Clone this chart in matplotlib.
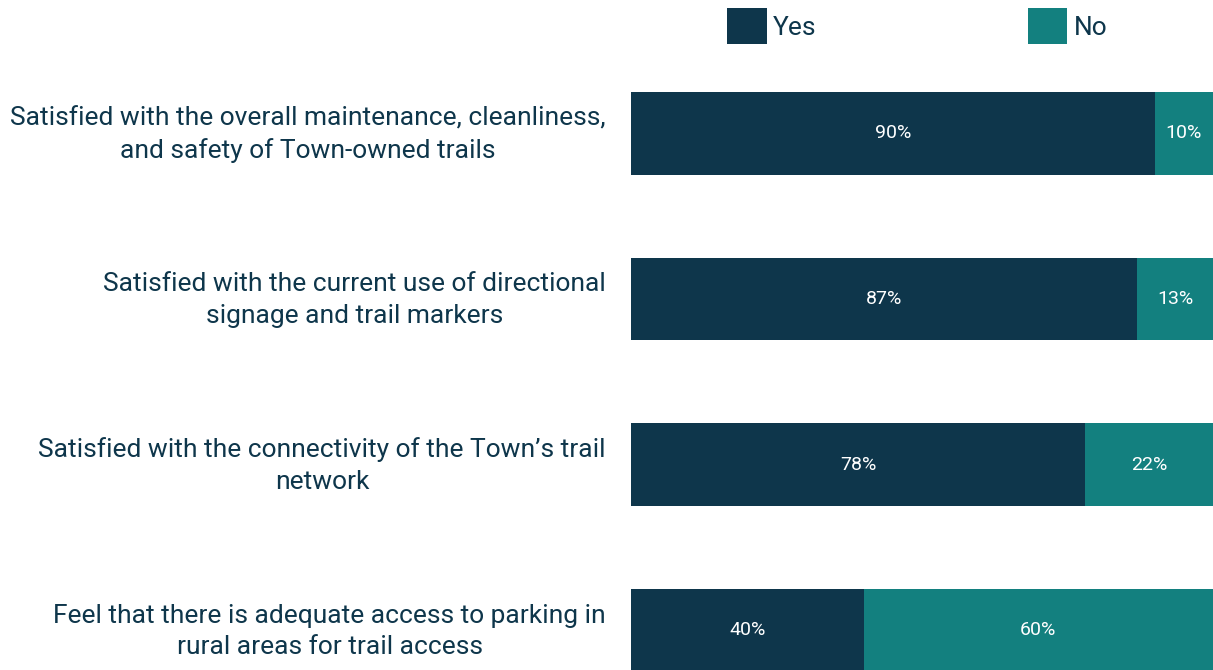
import numpy as np
import matplotlib.pyplot as plt

plt.rcParams['font.family'] = ['Roboto', 'DejaVu Sans']

# data
questions = [
    "Satisfied with the overall maintenance, cleanliness,\nand safety of Town-owned trails",
    "Satisfied with the current use of directional\nsignage and trail markers",
    "Satisfied with the connectivity of the Town\u2019s trail\nnetwork",
    "Feel that there is adequate access to parking in\nrural areas for trail access",
]
yes_pct = [90, 87, 78, 40]
no_pct = [10, 13, 22, 60]

navy = '#0E364B'
teal = '#13807F'

fig = plt.figure(figsize=(12.13, 6.70), dpi=100)
ax = fig.add_axes([631 / 1213, 0, 582 / 1213, 578 / 670])

y = np.arange(len(questions))
b1 = ax.barh(y, yes_pct, height=0.5, color=navy, label='Yes')
b2 = ax.barh(y, no_pct, left=yes_pct, height=0.5, color=teal, label='No')

for i in range(len(questions)):
    ax.text(yes_pct[i] / 2, y[i], f'{yes_pct[i]}%', ha='center', va='center',
            color='white', fontsize=14)
    ax.text(yes_pct[i] + no_pct[i] / 2, y[i], f'{no_pct[i]}%', ha='center', va='center',
            color='white', fontsize=14)
    # category label, right-aligned left of the bar, lines centred
    ax.annotate(questions[i], xy=(0, y[i]), xycoords=('axes fraction', 'data'),
                xytext=(-25, -1), textcoords='offset pixels',
                ha='right', va='center', multialignment='center',
                fontsize=19, color=navy, linespacing=1.38, annotation_clip=False)

ax.set_xlim(0, 100)
ax.set_ylim(3.24, -0.25)
ax.set_yticks([])
ax.set_xticks([])
for s in ax.spines.values():
    s.set_visible(False)

fig.legend(handles=[b1, b2], loc='center left', bbox_to_anchor=(727 / 1213, 1 - 26 / 670),
           ncol=2, frameon=False, fontsize=19, labelcolor=navy,
           handlelength=1.5, handleheight=1.75, handletextpad=0.25,
           columnspacing=8.0, borderaxespad=0, borderpad=0)

fig.savefig('out.png', dpi=100)
